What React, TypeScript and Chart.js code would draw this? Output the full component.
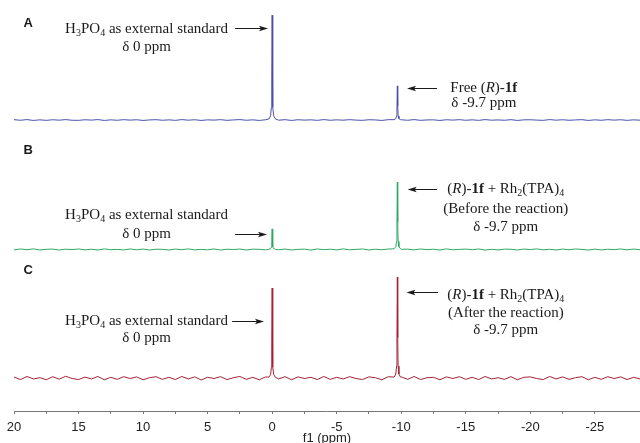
import React, { useEffect, useRef } from "react";
import { Chart, registerables } from "chart.js";

Chart.register(...registerables);

// ---- data ----
const X_MIN = -28.5;
const X_MAX = 20;
const NOISE_START = 20;
const NOISE_STEP = 0.5;

const peakShifts = [0, -9.7];
const intensityA = [25.5, 8.3];
const intensityB = [5.0, 16.4];
const intensityC = [21.9, 24.6];
const baselineOffsets = [70.8, 39.3, 8.0];

const peakOffsets = [-0.25, -0.12, -0.06, -0.03, 0, 0.03, 0.06, 0.12, 0.25];
const peakShape = [0.01, 0.04, 0.12, 0.4, 1, 0.4, 0.12, 0.04, 0.01];

const noiseA = [
  0.08, -0.06, 0.1, -0.1, 0.04, -0.08, 0.06, -0.04, 0.1, -0.06,
  -0.08, 0.06, -0.02, 0.1, -0.1, 0.04, -0.06, 0.08, -0.02, 0.06,
  -0.1, 0.02, 0.08, -0.06, 0.04, -0.08, 0.1, -0.04, 0.06, -0.1,
  0.04, -0.02, 0.08, -0.08, 0.02, 0.1, -0.06, 0.04, -0.1, 0.06,
  0.02, -0.04, 0.08, -0.1, 0.06, -0.02, 0.04, -0.08, 0.1, -0.06,
  0.04, -0.04, 0.08, -0.02, -0.08, 0.06, 0.02, -0.1, 0.08, -0.04,
  0.06, -0.06, 0.1, -0.08, 0.02, 0.04, -0.1, 0.06, -0.02, 0.08,
  -0.06, 0.04, -0.08, 0.1, -0.04, 0.02, -0.06, 0.08, -0.1, 0.04,
  0.06, -0.02, -0.08, 0.1, -0.04, 0.06, -0.06, 0.02, 0.08, -0.1,
  0.04, -0.06, 0.08, -0.02, 0.06, -0.08, 0.04, -0.04,
];

const noiseB = [
  -0.1, 0.12, -0.06, 0.14, -0.12, 0.04, 0.1, -0.14, 0.08, -0.04,
  0.12, -0.1, 0.06, -0.12, 0.14, -0.06, 0.02, -0.1, 0.12, -0.08,
  0.1, -0.14, 0.06, 0.04, -0.12, 0.1, -0.06, 0.14, -0.1, 0.02,
  -0.08, 0.12, -0.14, 0.06, -0.02, 0.1, -0.12, 0.08, 0.04, -0.1,
  0.14, -0.06, 0.1, -0.12, 0.02, 0.08, -0.14, 0.12, -0.04, 0.06,
  -0.1, 0.14, -0.08, 0.02, 0.12, -0.12, 0.06, -0.06, 0.1, -0.14,
  0.04, 0.08, -0.1, 0.12, -0.04, 0.06, -0.12, 0.14, -0.08, 0.02,
  0.1, -0.06, 0.12, -0.14, 0.04, -0.1, 0.08, 0.06, -0.12, 0.1,
  -0.02, 0.14, -0.08, 0.04, -0.12, 0.1, -0.06, 0.12, 0.02, -0.14,
  0.08, -0.1, 0.06, -0.04, 0.12, -0.08, 0.1, -0.06,
];

const noiseC = [
  0.25, -0.35, 0.4, -0.2, 0.1, -0.4, 0.35, -0.25, 0.45, -0.1,
  -0.35, 0.25, -0.2, 0.4, -0.4, 0.2, -0.3, 0.35, -0.1, 0.3,
  -0.4, 0.1, 0.35, -0.3, 0.2, -0.35, 0.4, -0.2, 0.3, -0.45,
  0.2, -0.1, 0.35, -0.35, 0.1, 0.4, -0.3, 0.2, -0.4, 0.3,
  0.1, -0.2, 0.35, -0.4, 0.3, -0.1, 0.2, -0.35, 0.4, -0.3,
  0.2, -0.2, 0.35, -0.1, -0.35, 0.3, 0.1, -0.4, 0.35, -0.2,
  0.3, -0.3, 0.4, -0.35, 0.1, 0.2, -0.4, 0.3, -0.1, 0.35,
  -0.3, 0.2, -0.35, 0.4, -0.2, 0.1, -0.3, 0.35, -0.4, 0.2,
  0.3, -0.1, -0.35, 0.4, -0.2, 0.3, -0.3, 0.1, 0.35, -0.4,
  0.2, -0.3, 0.35, -0.1, 0.3, -0.35, 0.2, -0.2,
];

const tickLabelsEvery = 5;

function buildSpectrum(noise: number[], intensities: number[], offset: number) {
  const pts: { x: number; y: number }[] = [];
  noise.forEach((n, i) => {
    const x = NOISE_START - i * NOISE_STEP;
    if (peakShifts.some((p) => Math.abs(x - p) < 0.3)) return;
    pts.push({ x, y: offset + n });
  });
  peakShifts.forEach((p, k) => {
    peakOffsets.forEach((o, j) => {
      pts.push({ x: p + o, y: offset + intensities[k] * peakShape[j] });
    });
  });
  pts.sort((a, b) => b.x - a.x);
  return pts;
}

// ---- annotations ----
type Seg = { t: string; s?: "i" | "b" | "sub" };
const H3PO4: Seg[] = [
  { t: "H" }, { t: "3", s: "sub" }, { t: "PO" }, { t: "4", s: "sub" }, { t: " as external standard" },
];
const D0: Seg[] = [{ t: "δ 0 ppm" }];
const D97: Seg[] = [{ t: "δ -9.7 ppm" }];
const R1F_RH: Seg[] = [
  { t: "(" }, { t: "R", s: "i" }, { t: ")-" }, { t: "1f", s: "b" }, { t: " + Rh" }, { t: "2", s: "sub" },
  { t: "(TPA)" }, { t: "4", s: "sub" },
];
const FREE: Seg[] = [{ t: "Free (" }, { t: "R", s: "i" }, { t: ")-" }, { t: "1f", s: "b" }];

const textBlocks: { x: number; lines: { y: number; segs: Seg[] }[] }[] = [
  { x: 9.73, lines: [{ y: 92.9, segs: H3PO4 }, { y: 88.6, segs: D0 }] },
  { x: -16.4, lines: [{ y: 78.6, segs: FREE }, { y: 74.9, segs: D97 }] },
  { x: 9.73, lines: [{ y: 47.7, segs: H3PO4 }, { y: 43.1, segs: D0 }] },
  {
    x: -18.1,
    lines: [
      { y: 54.0, segs: R1F_RH },
      { y: 49.1, segs: [{ t: "(Before the reaction)" }] },
      { y: 44.8, segs: D97 },
    ],
  },
  { x: 9.73, lines: [{ y: 21.9, segs: H3PO4 }, { y: 17.8, segs: D0 }] },
  {
    x: -18.1,
    lines: [
      { y: 28.2, segs: R1F_RH },
      { y: 23.8, segs: [{ t: "(After the reaction)" }] },
      { y: 19.7, segs: D97 },
    ],
  },
];

const arrows = [
  { x1: 2.87, x2: 0.32, y: 93.2 },
  { x1: -12.77, x2: -10.45, y: 78.6 },
  { x1: 2.87, x2: 0.4, y: 43.1 },
  { x1: -12.77, x2: -10.5, y: 54.0 },
  { x1: 3.1, x2: 0.63, y: 21.9 },
  { x1: -12.85, x2: -10.4, y: 29.0 },
];

const panelLabels = [
  { t: "A", x: 18.9, y: 94.2 },
  { t: "B", x: 18.9, y: 63.5 },
  { t: "C", x: 18.9, y: 34.3 },
];

const SERIF = "'Liberation Serif', 'Times New Roman', serif";
const SANS = "'Liberation Sans', Arial, sans-serif";

function segFont(s?: string) {
  if (s === "i") return `italic 15px ${SERIF}`;
  if (s === "b") return `bold 15px ${SERIF}`;
  if (s === "sub") return `10px ${SERIF}`;
  return `15px ${SERIF}`;
}

const annotationPlugin = {
  id: "nmrAnnotations",
  afterDraw(chart: any) {
    const ctx = chart.ctx as CanvasRenderingContext2D;
    const xs = chart.scales.x;
    const ys = chart.scales.y;
    ctx.save();
    ctx.fillStyle = "#1a1a1a";
    ctx.strokeStyle = "#1a1a1a";
    ctx.textBaseline = "middle";
    ctx.textAlign = "left";
    textBlocks.forEach((b) => {
      const cx = xs.getPixelForValue(b.x);
      b.lines.forEach((ln) => {
        const cy = ys.getPixelForValue(ln.y);
        let w = 0;
        ln.segs.forEach((sg) => {
          ctx.font = segFont(sg.s);
          w += ctx.measureText(sg.t).width;
        });
        let px = cx - w / 2;
        ln.segs.forEach((sg) => {
          ctx.font = segFont(sg.s);
          ctx.fillText(sg.t, px, cy + (sg.s === "sub" ? 4 : 0));
          px += ctx.measureText(sg.t).width;
        });
      });
    });
    ctx.lineWidth = 1;
    arrows.forEach((a) => {
      const x1 = xs.getPixelForValue(a.x1);
      const x2 = xs.getPixelForValue(a.x2);
      const y = Math.round(ys.getPixelForValue(a.y)) + 0.5;
      const dir = Math.sign(x2 - x1);
      ctx.beginPath();
      ctx.moveTo(x1, y);
      ctx.lineTo(x2 - dir * 6, y);
      ctx.stroke();
      ctx.beginPath();
      ctx.moveTo(x2, y);
      ctx.lineTo(x2 - dir * 9, y - 2.8);
      ctx.lineTo(x2 - dir * 7, y);
      ctx.lineTo(x2 - dir * 9, y + 2.8);
      ctx.closePath();
      ctx.fill();
    });
    ctx.textAlign = "center";
    ctx.font = `bold 13px ${SANS}`;
    panelLabels.forEach((p) => {
      ctx.fillText(p.t, xs.getPixelForValue(p.x), ys.getPixelForValue(p.y));
    });
    ctx.restore();
  },
};

export default function App() {
  const ref = useRef<HTMLCanvasElement | null>(null);
  useEffect(() => {
    if (!ref.current) return;
    const chart = new Chart(ref.current, {
      type: "line",
      data: {
        datasets: [
          { label: "A", data: buildSpectrum(noiseA, intensityA, baselineOffsets[0]), borderColor: "#4e4eaa" },
          { label: "B", data: buildSpectrum(noiseB, intensityB, baselineOffsets[1]), borderColor: "#2fa860" },
          { label: "C", data: buildSpectrum(noiseC, intensityC, baselineOffsets[2]), borderColor: "#a52232" },
        ].map((d) => ({ ...d, borderWidth: 1, pointRadius: 0, tension: 0, fill: false })),
      },
      options: {
        animation: false,
        responsive: false,
        maintainAspectRatio: false,
        parsing: true,
        layout: { padding: { left: 14, right: 0, top: 0, bottom: 0 } },
        plugins: { legend: { display: false }, tooltip: { enabled: false } },
        scales: {
          x: {
            type: "linear",
            reverse: true,
            min: X_MIN,
            max: X_MAX,
            position: "bottom",
            afterBuildTicks: (s: any) => {
              s.ticks = s.ticks.filter((t: any) => Math.abs(t.value / 2.5 - Math.round(t.value / 2.5)) < 1e-6);
            },
            afterFit: (s: any) => {
              s.height = 32;
            },
            grid: { drawOnChartArea: false, drawTicks: true, tickLength: 3, color: "#777" },
            border: { display: true, color: "#777", width: 1 },
            ticks: {
              stepSize: 2.5,
              autoSkip: false,
              maxRotation: 0,
              padding: 6,
              color: "#222",
              font: { family: SANS, size: 13 },
              callback: (v: any) => (Math.abs(v % tickLabelsEvery) < 1e-6 ? String(v) : ""),
            },
            title: {
              display: true,
              text: "f1 (ppm)",
              color: "#222",
              font: { family: SANS, size: 13, lineHeight: 1 },
              padding: { top: 0, bottom: -2 },
            },
          },
          y: { type: "linear", display: false, min: 0, max: 100 },
        },
      },
      plugins: [annotationPlugin],
    });
    return () => chart.destroy();
  }, []);
  return (
    <div style={{ position: "fixed", left: 0, top: 0, width: 640, height: 443, background: "#fff" }}>
      <canvas ref={ref} width={640} height={443} style={{ width: 640, height: 443 }} />
    </div>
  );
}
